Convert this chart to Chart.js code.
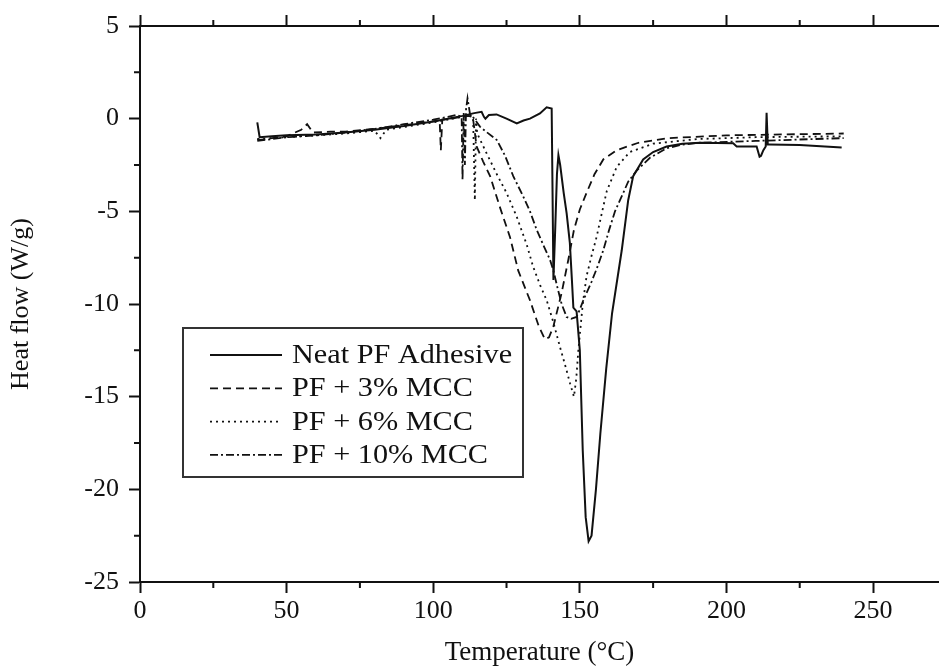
<!DOCTYPE html>
<html>
<head>
<meta charset="utf-8">
<script src="https://cdn.jsdelivr.net/npm/chart.js@4.4.0/dist/chart.umd.min.js"></script>
<style>
  html, body { margin: 0; padding: 0; background: #fff; }
  #wrap { width: 939px; height: 672px; }
</style>
</head>
<body>
<div id="wrap"><canvas id="dscChart" width="939" height="672"></canvas></div>
<script>
// Series data (temperature in °C, heat flow in W/g)
const seriesLabels = ['Neat PF Adhesive', 'PF + 3% MCC', 'PF + 6% MCC', 'PF + 10% MCC'];

const neatT = [40, 40.8, 45, 50, 60, 70, 80, 90, 100, 105, 110, 114, 116.5, 117.3, 117.8, 119, 121.6, 125, 128.5, 130.8, 133, 136.4, 138.7, 140.4,
    140.7, 141.0, 141.6, 142.2, 142.7, 143.3, 144.5, 145.5, 146.6, 147.3, 147.8, 148.9, 150, 151, 152, 153, 154, 155.5, 157, 159, 161, 164.3,
    166.5, 168.2, 171.6, 175, 179.6, 185, 191, 202.3, 203.5, 210.3, 211.3, 211.8, 212.6, 213.4, 213.7, 214.1, 214.6, 225, 239.3];
const neatY = [-0.2, -1.0, -0.95, -0.9, -0.85, -0.75, -0.6, -0.4, -0.15, 0.0, 0.15, 0.3, 0.37, 0.1, 0.0, 0.2, 0.23, 0.0, -0.25, -0.1, 0.0, 0.28, 0.61, 0.55,
    -4.0, -8.7, -6.0, -3.0, -1.97, -2.5, -4.0, -5.1, -6.7, -8.7, -10.2, -10.4, -12.5, -17.9, -21.5, -22.8, -22.5, -20.0, -17.0, -13.5, -10.5, -7.1,
    -4.4, -3.1, -2.2, -1.8, -1.5, -1.35, -1.3, -1.33, -1.5, -1.5, -2.05, -2.0, -1.7, -1.5, 0.32, -1.4, -1.4, -1.42, -1.55];

const mcc3T = [40, 41, 45, 50, 55, 57, 59, 65, 70, 80, 90, 100, 102.2, 102.6, 103.1, 106, 110, 112, 113.5, 114.8, 117, 119.4, 122.8, 126.2, 129,
    133, 136, 138.1, 139.5, 141, 143.8, 146.1, 148, 150, 152.3, 155, 158, 162.6, 170, 180, 200, 220, 240];
const mcc3Y = [-1.1, -1.15, -1.05, -0.95, -0.6, -0.3, -0.75, -0.7, -0.7, -0.55, -0.35, -0.15, -0.1, -1.7, -0.05, 0.0, 0.1, 0.15, 0.1, -1.5, -2.3, -3.1, -4.8, -6.4, -8.2,
    -9.8, -11.2, -11.9, -11.8, -11.2, -9.4, -7.6, -6.0, -4.9, -4.0, -3.0, -2.2, -1.7, -1.3, -1.05, -0.9, -0.85, -0.8];

const mcc6T = [40, 45, 50, 60, 70, 80, 82, 84, 90, 100, 105, 110, 112, 113.6, 114.2, 114.6, 115, 118, 121.7, 125, 128.5, 131.9, 134.1, 136.5, 138.7,
    141, 143.2, 145, 146.7, 148, 148.8, 149.5, 151, 152.3, 154, 155.7, 157.5, 159.2, 162.6, 167, 175, 190, 210, 240];
const mcc6Y = [-1.1, -1.05, -1.0, -0.9, -0.8, -0.65, -1.05, -0.6, -0.45, -0.2, -0.05, 0.1, 0.2, 0.1, -4.4, 0.0, -0.8, -1.8, -3.0, -4.0, -5.3, -6.8, -8.0, -9.0, -9.8,
    -11.0, -12.3, -13.3, -14.3, -15.0, -14.0, -12.5, -10.0, -8.5, -7.4, -6.4, -5.1, -3.9, -2.6, -1.8, -1.35, -1.1, -1.0, -0.95];

const mcc10T = [40, 45, 50, 60, 70, 80, 90, 100, 105, 108, 109.7, 110, 110.4, 110.8, 111.2, 111.7, 112.5, 114, 116, 118, 121.7, 124.5, 127.3, 130.7,
    133, 135.3, 137.5, 139.8, 141, 142.5, 143.8, 145.5, 147, 148.9, 150, 151.2, 154, 156, 158, 160, 162, 163.7, 166.5, 169.4, 174, 179.6, 185,
    191, 210, 240];
const mcc10Y = [-1.2, -1.1, -1.0, -0.9, -0.75, -0.55, -0.3, -0.05, 0.1, 0.2, 0.1, -3.3, 0.3, -2.5, 0.5, 1.1, 0.3, 0.0, -0.44, -0.7, -1.15, -2.0, -3.1, -4.2,
    -5.0, -6.0, -6.8, -7.6, -8.2, -9.2, -10.0, -10.7, -10.8, -10.7, -10.3, -9.8, -8.8, -8.0, -7.1, -6.0, -5.0, -4.4, -3.4, -2.8, -2.1, -1.6, -1.4,
    -1.3, -1.2, -1.05];

// Axis ranges / ticks
const xMin = 0, xMax = 272.5, xStep = 50, xMinorStep = 25;
const yMin = -25, yMax = 5, yStep = 5, yMinorStep = 2.5;

const serif = "'Liberation Serif', 'Times New Roman', serif";
const ink = '#111';

function toPoints(xs, ys) {
    return xs.map((x, i) => ({ x: x, y: ys[i] }));
}

const dashes = [[], [8, 5], [2, 4], [8, 3, 2, 3]];
const seriesData = [
    toPoints(neatT, neatY),
    toPoints(mcc3T, mcc3Y),
    toPoints(mcc6T, mcc6Y),
    toPoints(mcc10T, mcc10Y)
];

const datasets = seriesData.map((pts, i) => ({
    label: seriesLabels[i],
    data: pts,
    showLine: true,
    borderColor: ink,
    borderWidth: i === 0 ? 2 : 1.8,
    borderDash: dashes[i],
    pointRadius: 0,
    tension: 0
}));

// minor ticks on all three drawn axes
const minorTicks = {
    id: 'minorTicks',
    afterDraw(chart) {
        const { ctx, chartArea, scales } = chart;
        ctx.save();
        ctx.strokeStyle = ink;
        ctx.lineWidth = 2;
        ctx.beginPath();
        for (let v = xMinorStep; v <= xMax; v += xStep) {
            const px = scales.x.getPixelForValue(v);
            ctx.moveTo(px, chartArea.bottom);
            ctx.lineTo(px, chartArea.bottom + 6);
            ctx.moveTo(px, chartArea.top);
            ctx.lineTo(px, chartArea.top - 6);
        }
        for (let v = yMin + yMinorStep; v < yMax; v += yStep) {
            const py = scales.y.getPixelForValue(v);
            ctx.moveTo(chartArea.left, py);
            ctx.lineTo(chartArea.left - 6, py);
        }
        ctx.stroke();
        ctx.restore();
    }
};

// boxed legend sitting inside the plot
const boxLegend = {
    id: 'boxLegend',
    afterDraw(chart) {
        const { ctx } = chart;
        const left = 183, top = 328, width = 340, height = 149;
        const rowH = 33.3, firstRow = 355;
        ctx.save();
        ctx.fillStyle = '#fff';
        ctx.fillRect(left, top, width, height);
        ctx.strokeStyle = '#333';
        ctx.lineWidth = 2;
        ctx.strokeRect(left, top, width, height);
        ctx.font = '27px ' + serif;
        ctx.textBaseline = 'middle';
        chart.data.datasets.forEach((ds, i) => {
            const y = firstRow + i * rowH;
            ctx.strokeStyle = ink;
            ctx.lineWidth = ds.borderWidth;
            ctx.setLineDash(ds.borderDash);
            ctx.beginPath();
            ctx.moveTo(210, y);
            ctx.lineTo(282, y);
            ctx.stroke();
            ctx.setLineDash([]);
            // the source text is a little wide, stretch it sideways
            ctx.save();
            ctx.translate(292, y + 1);
            ctx.scale(1.12, 1);
            ctx.fillStyle = ink;
            ctx.fillText(ds.label, 0, 0);
            ctx.restore();
        });
        ctx.restore();
    }
};

const axisGrid = {
    display: true,
    drawOnChartArea: false,
    drawTicks: true,
    tickLength: 11,
    tickWidth: 2,
    color: ink
};

new Chart(document.getElementById('dscChart').getContext('2d'), {
    type: 'scatter',
    data: { datasets: datasets },
    options: {
        responsive: false,
        devicePixelRatio: 1,
        animation: false,
        layout: { padding: 0 },
        plugins: {
            legend: { display: false },
            tooltip: { enabled: false }
        },
        scales: {
            x: {
                type: 'linear',
                position: 'bottom',
                min: xMin,
                max: xMax,
                grid: axisGrid,
                border: { display: true, color: ink, width: 2 },
                ticks: {
                    stepSize: xStep,
                    includeBounds: false,
                    maxRotation: 0,
                    color: ink,
                    padding: 3,
                    font: { family: serif, size: 26 }
                },
                title: {
                    display: true,
                    text: 'Temperature (°C)',
                    color: ink,
                    font: { family: serif, size: 27 },
                    padding: { top: 0, bottom: 3 }
                },
                afterFit(scale) { scale.height = 90; }
            },
            xTop: {
                type: 'linear',
                position: 'top',
                min: xMin,
                max: xMax,
                grid: axisGrid,
                border: { display: true, color: ink, width: 2 },
                ticks: { stepSize: xStep, includeBounds: false, display: false },
                afterFit(scale) { scale.height = 26; }
            },
            y: {
                type: 'linear',
                position: 'left',
                min: yMin,
                max: yMax,
                grid: axisGrid,
                border: { display: true, color: ink, width: 2 },
                ticks: {
                    stepSize: yStep,
                    color: ink,
                    padding: 10,
                    font: { family: serif, size: 26 }
                },
                title: {
                    display: true,
                    text: 'Heat flow (W/g)',
                    color: ink,
                    font: { family: serif, size: 26 },
                    padding: { top: 6, bottom: 0 }
                },
                afterFit(scale) { scale.width = 140; }
            }
        }
    },
    plugins: [minorTicks, boxLegend]
});
</script>
</body>
</html>
